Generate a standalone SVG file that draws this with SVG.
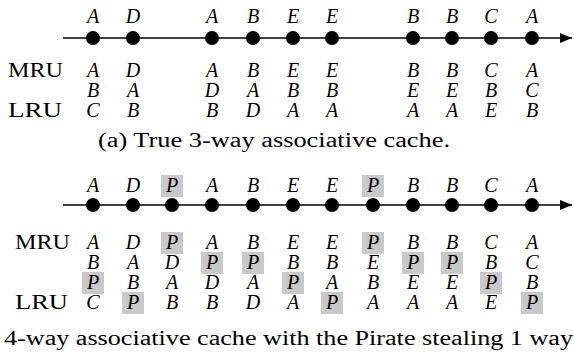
<svg xmlns="http://www.w3.org/2000/svg" width="574" height="356" viewBox="0 0 574 356">
  <style>
    .axis { stroke: #000; stroke-width: 1.3; fill: none; }
    .dot { fill: #000; }
    .sym { font-family: 'Liberation Serif', 'Times New Roman', Times, serif; font-style: italic; font-size: 20px; fill: #000; text-anchor: middle; }
    .lbl { font-family: 'Liberation Serif', 'Times New Roman', Times, serif; font-size: 21px; fill: #000; }
    .cap { font-family: 'Liberation Serif', 'Times New Roman', Times, serif; font-size: 20px; fill: #000; }
    .hl { fill: #c9c9c9; }
  </style>
  <defs>
    <marker id="arrow" viewBox="0 0 12 10" refX="12" refY="5" markerWidth="12" markerHeight="10" markerUnits="userSpaceOnUse" orient="auto">
      <path d="M0,0 L12,5 L0,10 Z" fill="#000"/>
    </marker>
  </defs>

  <!-- Connectors: the two time axes -->
  <g id="connectors">
    <line class="axis" x1="63" y1="38" x2="572" y2="38" marker-end="url(#arrow)"/>
    <line class="axis" x1="63" y1="205" x2="572" y2="205" marker-end="url(#arrow)"/>
  </g>

  <!-- (a) True 3-way associative cache -->
  <g id="true-cache">
    <g id="true-accesses">
      <circle class="dot" cx="93" cy="38" r="7"/>
      <circle class="dot" cx="133" cy="38" r="7"/>
      <circle class="dot" cx="212" cy="38" r="7"/>
      <circle class="dot" cx="253" cy="38" r="7"/>
      <circle class="dot" cx="293" cy="38" r="7"/>
      <circle class="dot" cx="332" cy="38" r="7"/>
      <circle class="dot" cx="413" cy="38" r="7"/>
      <circle class="dot" cx="452" cy="38" r="7"/>
      <circle class="dot" cx="491" cy="38" r="7"/>
      <circle class="dot" cx="532" cy="38" r="7"/>
      <text class="sym" x="93" y="23">A</text>
      <text class="sym" x="133" y="23">D</text>
      <text class="sym" x="212" y="23">A</text>
      <text class="sym" x="253" y="23">B</text>
      <text class="sym" x="293" y="23">E</text>
      <text class="sym" x="332" y="23">E</text>
      <text class="sym" x="413" y="23">B</text>
      <text class="sym" x="452" y="23">B</text>
      <text class="sym" x="491" y="23">C</text>
      <text class="sym" x="532" y="23">A</text>
    </g>
    <g id="true-stack">
      <text class="lbl" x="8" y="77" textLength="55" lengthAdjust="spacingAndGlyphs">MRU</text>
      <text class="lbl" x="8" y="117" textLength="54" lengthAdjust="spacingAndGlyphs">LRU</text>
      <!-- MRU row -->
      <text class="sym" x="93" y="77">A</text>
      <text class="sym" x="133" y="77">D</text>
      <text class="sym" x="212" y="77">A</text>
      <text class="sym" x="253" y="77">B</text>
      <text class="sym" x="293" y="77">E</text>
      <text class="sym" x="332" y="77">E</text>
      <text class="sym" x="413" y="77">B</text>
      <text class="sym" x="452" y="77">B</text>
      <text class="sym" x="491" y="77">C</text>
      <text class="sym" x="532" y="77">A</text>
      <!-- middle row -->
      <text class="sym" x="93" y="97">B</text>
      <text class="sym" x="133" y="97">A</text>
      <text class="sym" x="212" y="97">D</text>
      <text class="sym" x="253" y="97">A</text>
      <text class="sym" x="293" y="97">B</text>
      <text class="sym" x="332" y="97">B</text>
      <text class="sym" x="413" y="97">E</text>
      <text class="sym" x="452" y="97">E</text>
      <text class="sym" x="491" y="97">B</text>
      <text class="sym" x="532" y="97">C</text>
      <!-- LRU row -->
      <text class="sym" x="93" y="117">C</text>
      <text class="sym" x="133" y="117">B</text>
      <text class="sym" x="212" y="117">B</text>
      <text class="sym" x="253" y="117">D</text>
      <text class="sym" x="293" y="117">A</text>
      <text class="sym" x="332" y="117">A</text>
      <text class="sym" x="413" y="117">A</text>
      <text class="sym" x="452" y="117">A</text>
      <text class="sym" x="491" y="117">E</text>
      <text class="sym" x="532" y="117">B</text>
    </g>
    <text id="caption-a" class="cap" x="98" y="147" textLength="352" lengthAdjust="spacingAndGlyphs">(a) True 3-way associative cache.</text>
  </g>

  <!-- 4-way cache with one way taken by the Pirate -->
  <g id="pirate-cache">
    <g id="pirate-highlights">
      <rect class="hl" x="161" y="175" width="22" height="22"/>
      <rect class="hl" x="362" y="175" width="22" height="22"/>
      <!-- MRU row -->
      <rect class="hl" x="161" y="232" width="22" height="22"/>
      <rect class="hl" x="362" y="232" width="22" height="22"/>
      <!-- second row -->
      <rect class="hl" x="201" y="252" width="22" height="22"/>
      <rect class="hl" x="242" y="252" width="22" height="22"/>
      <rect class="hl" x="402" y="252" width="22" height="22"/>
      <rect class="hl" x="441" y="252" width="22" height="22"/>
      <!-- third row -->
      <rect class="hl" x="82" y="272" width="22" height="22"/>
      <rect class="hl" x="282" y="272" width="22" height="22"/>
      <rect class="hl" x="480" y="272" width="22" height="22"/>
      <!-- LRU row -->
      <rect class="hl" x="122" y="292" width="22" height="22"/>
      <rect class="hl" x="321" y="292" width="22" height="22"/>
      <rect class="hl" x="521" y="292" width="22" height="22"/>
    </g>
    <g id="pirate-accesses">
      <circle class="dot" cx="93" cy="205" r="7"/>
      <circle class="dot" cx="133" cy="205" r="7"/>
      <circle class="dot" cx="172" cy="205" r="7"/>
      <circle class="dot" cx="212" cy="205" r="7"/>
      <circle class="dot" cx="253" cy="205" r="7"/>
      <circle class="dot" cx="293" cy="205" r="7"/>
      <circle class="dot" cx="332" cy="205" r="7"/>
      <circle class="dot" cx="373" cy="205" r="7"/>
      <circle class="dot" cx="413" cy="205" r="7"/>
      <circle class="dot" cx="452" cy="205" r="7"/>
      <circle class="dot" cx="491" cy="205" r="7"/>
      <circle class="dot" cx="532" cy="205" r="7"/>
      <text class="sym" x="93" y="192">A</text>
      <text class="sym" x="133" y="192">D</text>
      <text class="sym" x="172" y="192">P</text>
      <text class="sym" x="212" y="192">A</text>
      <text class="sym" x="253" y="192">B</text>
      <text class="sym" x="293" y="192">E</text>
      <text class="sym" x="332" y="192">E</text>
      <text class="sym" x="373" y="192">P</text>
      <text class="sym" x="413" y="192">B</text>
      <text class="sym" x="452" y="192">B</text>
      <text class="sym" x="491" y="192">C</text>
      <text class="sym" x="532" y="192">A</text>
    </g>
    <g id="pirate-stack">
      <text class="lbl" x="15" y="249" textLength="55" lengthAdjust="spacingAndGlyphs">MRU</text>
      <text class="lbl" x="15" y="309" textLength="53" lengthAdjust="spacingAndGlyphs">LRU</text>
      <!-- MRU row -->
      <text class="sym" x="93" y="249">A</text>
      <text class="sym" x="133" y="249">D</text>
      <text class="sym" x="172" y="249">P</text>
      <text class="sym" x="212" y="249">A</text>
      <text class="sym" x="253" y="249">B</text>
      <text class="sym" x="293" y="249">E</text>
      <text class="sym" x="332" y="249">E</text>
      <text class="sym" x="373" y="249">P</text>
      <text class="sym" x="413" y="249">B</text>
      <text class="sym" x="452" y="249">B</text>
      <text class="sym" x="491" y="249">C</text>
      <text class="sym" x="532" y="249">A</text>
      <!-- second row -->
      <text class="sym" x="93" y="269">B</text>
      <text class="sym" x="133" y="269">A</text>
      <text class="sym" x="172" y="269">D</text>
      <text class="sym" x="212" y="269">P</text>
      <text class="sym" x="253" y="269">P</text>
      <text class="sym" x="293" y="269">B</text>
      <text class="sym" x="332" y="269">B</text>
      <text class="sym" x="373" y="269">E</text>
      <text class="sym" x="413" y="269">P</text>
      <text class="sym" x="452" y="269">P</text>
      <text class="sym" x="491" y="269">B</text>
      <text class="sym" x="532" y="269">C</text>
      <!-- third row -->
      <text class="sym" x="93" y="289">P</text>
      <text class="sym" x="133" y="289">B</text>
      <text class="sym" x="172" y="289">A</text>
      <text class="sym" x="212" y="289">D</text>
      <text class="sym" x="253" y="289">A</text>
      <text class="sym" x="293" y="289">P</text>
      <text class="sym" x="332" y="289">A</text>
      <text class="sym" x="373" y="289">B</text>
      <text class="sym" x="413" y="289">E</text>
      <text class="sym" x="452" y="289">E</text>
      <text class="sym" x="491" y="289">P</text>
      <text class="sym" x="532" y="289">B</text>
      <!-- LRU row -->
      <text class="sym" x="93" y="309">C</text>
      <text class="sym" x="133" y="309">P</text>
      <text class="sym" x="172" y="309">B</text>
      <text class="sym" x="212" y="309">B</text>
      <text class="sym" x="253" y="309">D</text>
      <text class="sym" x="293" y="309">A</text>
      <text class="sym" x="332" y="309">P</text>
      <text class="sym" x="373" y="309">A</text>
      <text class="sym" x="413" y="309">A</text>
      <text class="sym" x="452" y="309">A</text>
      <text class="sym" x="491" y="309">E</text>
      <text class="sym" x="532" y="309">P</text>
    </g>
    <text id="caption-b" class="cap" x="4" y="345" textLength="569" lengthAdjust="spacingAndGlyphs">4-way associative cache with the Pirate stealing 1 way</text>
  </g>
</svg>
